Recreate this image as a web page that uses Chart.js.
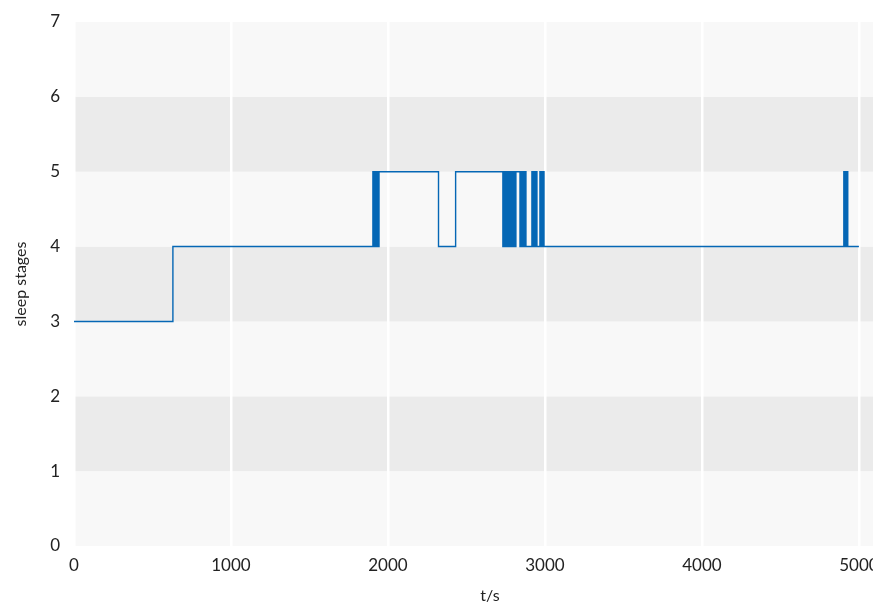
<!DOCTYPE html>
<html>
<head>
<meta charset="utf-8">
<script src="https://cdn.jsdelivr.net/npm/chart.js@4.4.1/dist/chart.umd.min.js"></script>
<style>
    html, body { margin: 0; padding: 0; overflow: hidden; background: #fff; }
    #wrap { width: 906px; height: 605px; }
</style>
</head>
<body>
<div id="wrap"><canvas id="sleepChart" width="906" height="605"></canvas></div>
<script>
// epoch start times (s) and the stage held from that time on
var times = [0, 630, 1904, 1908, 1912, 1916, 1920, 1924, 1928, 1932, 1936, 1940, 1943,
    2322, 2431,
    2732, 2737, 2742, 2747, 2752, 2757, 2762, 2767, 2772, 2777, 2782, 2787, 2792, 2797, 2802, 2807, 2812, 2815,
    2841, 2846, 2851, 2856, 2861, 2866, 2871, 2876, 2879,
    2917, 2922, 2927, 2932, 2937, 2942, 2947, 2949,
    2968, 2973, 2978, 2983, 2988, 2994,
    4904, 4909, 4914, 4919, 4924, 4929, 4936,
    5000];
var stages = [3, 4, 5, 4, 5, 4, 5, 4, 5, 4, 5, 4, 5,
    4, 5,
    4, 5, 4, 5, 4, 5, 4, 5, 4, 5, 4, 5, 4, 5, 4, 5, 4, 5,
    4, 5, 4, 5, 4, 5, 4, 5, 4,
    5, 4, 5, 4, 5, 4, 5, 4,
    5, 4, 5, 4, 5, 4,
    5, 4, 5, 4, 5, 4, 4,
    4];
var xTicks = [0, 1000, 2000, 3000, 4000, 5000];
var yTicks = [0, 1, 2, 3, 4, 5, 6, 7];

var points = [];
for (let i = 0; i < times.length; i++) {
    points.push({ x: times[i], y: stages[i] });
}

// alternating grey bands behind the plot
var bands = {
    id: 'bands',
    beforeDraw: function (chart) {
        var ctx = chart.ctx, a = chart.chartArea, ys = chart.scales.y;
        ctx.save();
        for (let v = 0; v < 7; v++) {
            var top = ys.getPixelForValue(v + 1), bot = ys.getPixelForValue(v);
            ctx.fillStyle = (v % 2 === 0) ? '#f8f8f8' : '#ebebeb';
            ctx.fillRect(a.left, top, a.right - a.left, bot - top);
        }
        ctx.restore();
    }
};

var ctx = document.getElementById('sleepChart').getContext('2d');
var chart = new Chart(ctx, {
    type: 'line',
    data: {
        datasets: [{
            data: points,
            borderColor: '#0567b5',
            borderWidth: 1.4,
            pointRadius: 0,
            // each stage holds until the next epoch starts
            stepped: 'before',
            fill: false
        }]
    },
    options: {
        responsive: false,
        animation: false,
        layout: { padding: { top: 22, right: 0, left: 0, bottom: 0 } },
        plugins: { legend: { display: false }, tooltip: { enabled: false } },
        scales: {
            x: {
                type: 'linear',
                min: 0,
                max: 5300,
                afterBuildTicks: function (s) { s.ticks = xTicks.map(v => ({ value: v })); },
                afterFit: function (s) { s.height = 59; },
                grid: { color: '#ffffff', lineWidth: 2.5, drawTicks: false },
                border: { display: false },
                ticks: {
                    color: '#222', font: { family: 'Lato', size: 17 }, padding: 9, maxRotation: 0,
                    callback: function (v) { return String(v); }
                },
                title: { display: true, text: 't/s', color: '#222', font: { family: 'Lato', size: 16 }, padding: { top: 3, bottom: 0 } }
            },
            y: {
                min: 0,
                max: 7,
                afterBuildTicks: function (s) { s.ticks = yTicks.map(v => ({ value: v })); },
                afterFit: function (s) { s.width = 74; },
                grid: { display: false },
                border: { display: false },
                ticks: { color: '#222', font: { family: 'Lato', size: 17 }, padding: 6 },
                title: { display: true, text: 'sleep stages', color: '#222', font: { family: 'Lato', size: 16 }, padding: { top: 11, bottom: 4 } }
            }
        }
    },
    plugins: [bands]
});
</script>
</body>
</html>
